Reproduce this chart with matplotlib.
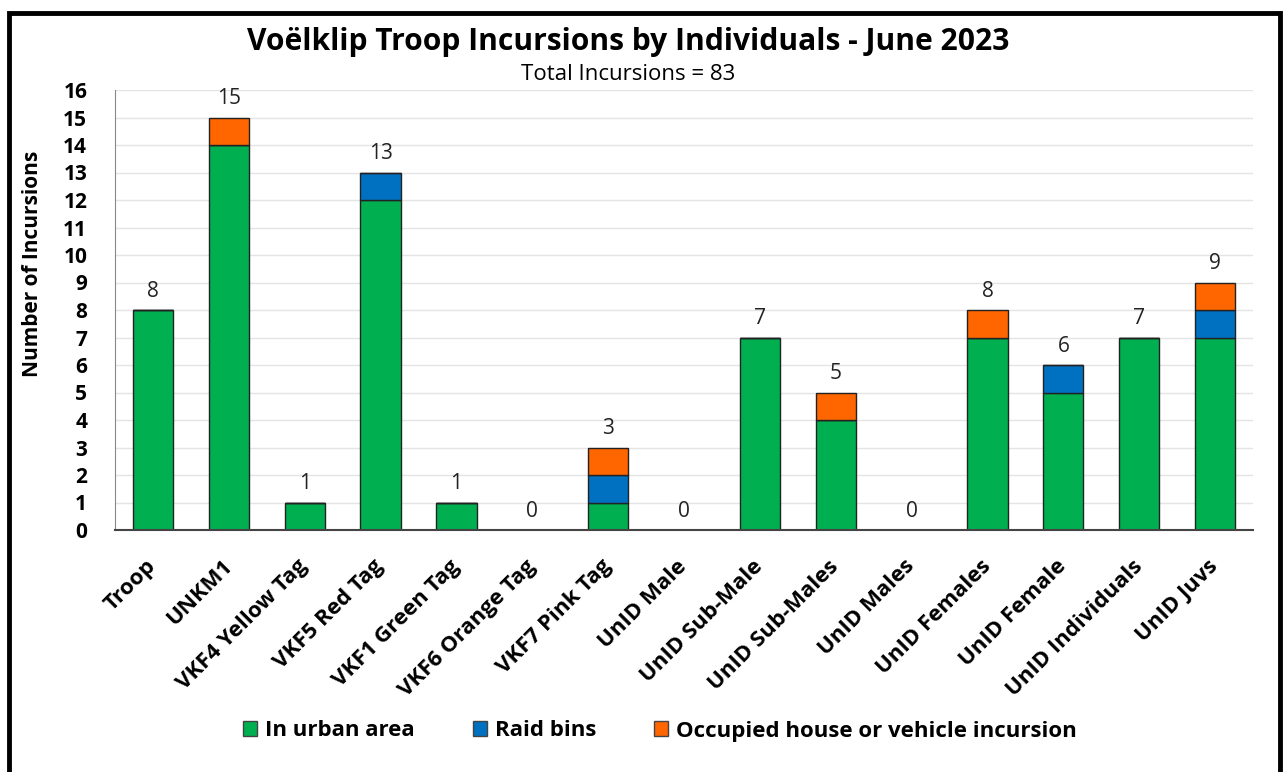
import numpy as np
import matplotlib.pyplot as plt
from matplotlib.patches import Rectangle, Patch

plt.rcParams['font.family'] = ['Open Sans', 'DejaVu Sans']

categories = ['Troop', 'UNKM1', 'VKF4 Yellow Tag', 'VKF5 Red Tag', 'VKF1 Green Tag',
              'VKF6 Orange Tag', 'VKF7 Pink Tag', 'UnID Male', 'UnID Sub-Male',
              'UnID Sub-Males', 'UnID Males', 'UnID Females', 'UnID Female',
              'UnID Individuals', 'UnID Juvs']
urban = [8, 14, 1, 12, 1, 0, 1, 0, 7, 4, 0, 7, 5, 7, 7]
raid_bins = [0, 0, 0, 1, 0, 0, 1, 0, 0, 0, 0, 0, 1, 0, 1]
occupied = [0, 1, 0, 0, 0, 0, 1, 0, 0, 1, 0, 1, 0, 0, 1]
series_names = ['In urban area', 'Raid bins', 'Occupied house or vehicle incursion']

green = '#00B050'
blue = '#0070C0'
orange = '#FF6600'

fig = plt.figure(figsize=(12.84, 7.72), dpi=100)
ax = fig.add_axes([115/1284, 1-530/772, (1253-115)/1284, 440/772])

x = np.arange(len(categories))
w = 0.53
u = np.array(urban)
b = np.array(raid_bins)
o = np.array(occupied)
ax.bar(x, u, w, color=green, edgecolor='#222222', linewidth=1)
ax.bar(x, b, w, bottom=u, color=blue, edgecolor='#222222', linewidth=1)
ax.bar(x, o, w, bottom=u + b, color=orange, edgecolor='#222222', linewidth=1)

totals = u + b + o
for xi, t in zip(x, totals):
    ax.text(xi, t + 0.3, str(t), ha='center', va='bottom', fontsize=15, color='#222222')

ax.set_xlim(-0.5, len(categories) - 0.5)
ax.set_ylim(0, 16)
ax.set_yticks(range(0, 17))
ax.set_yticklabels([str(i) for i in range(0, 17)], fontsize=15, fontweight='bold')
ax.set_xticks(x)
ax.set_xticklabels(categories, rotation=45, ha='right', va='center', rotation_mode='anchor',
                   fontsize=16, fontweight='bold')
ax.tick_params(axis='both', length=0)
ax.tick_params(axis='y', pad=20)
ax.tick_params(axis='x', pad=24)
ax.grid(axis='y', color='#e4e4e4', linewidth=1)
ax.set_axisbelow(True)
for s in ['top', 'right']:
    ax.spines[s].set_visible(False)
ax.spines['left'].set_color('#888888')
ax.spines['bottom'].set_color('#444444')
ax.spines['bottom'].set_linewidth(1.5)

fig.text(33/1284, 1-264/772, 'Number of Incursions', rotation=90, ha='center', va='center',
         fontsize=15, fontweight='bold')
fig.text(628/1284, 1-42/772, 'Voëlklip Troop Incursions by Individuals - June 2023',
         ha='center', va='center', fontsize=21.6, fontweight='bold')
fig.text(628/1284, 1-74/772, 'Total Incursions = 83', ha='center', va='center', fontsize=16)

handles = [Patch(facecolor=c, edgecolor='#444444') for c in [green, blue, orange]]
fig.legend(handles, series_names, loc='center', bbox_to_anchor=(660/1284, 1-731/772),
           ncol=3, frameon=False, prop={'weight': 'bold', 'size': 16},
           handlelength=0.65, handleheight=0.65, handletextpad=0.35, columnspacing=2.6)

fig.patches.append(Rectangle((9/1284, -0.05), (1280-9)/1284, 1.05 - 13/772,
                             transform=fig.transFigure, fill=False,
                             edgecolor='black', linewidth=3.5))

fig.savefig('out.png', dpi=100)
